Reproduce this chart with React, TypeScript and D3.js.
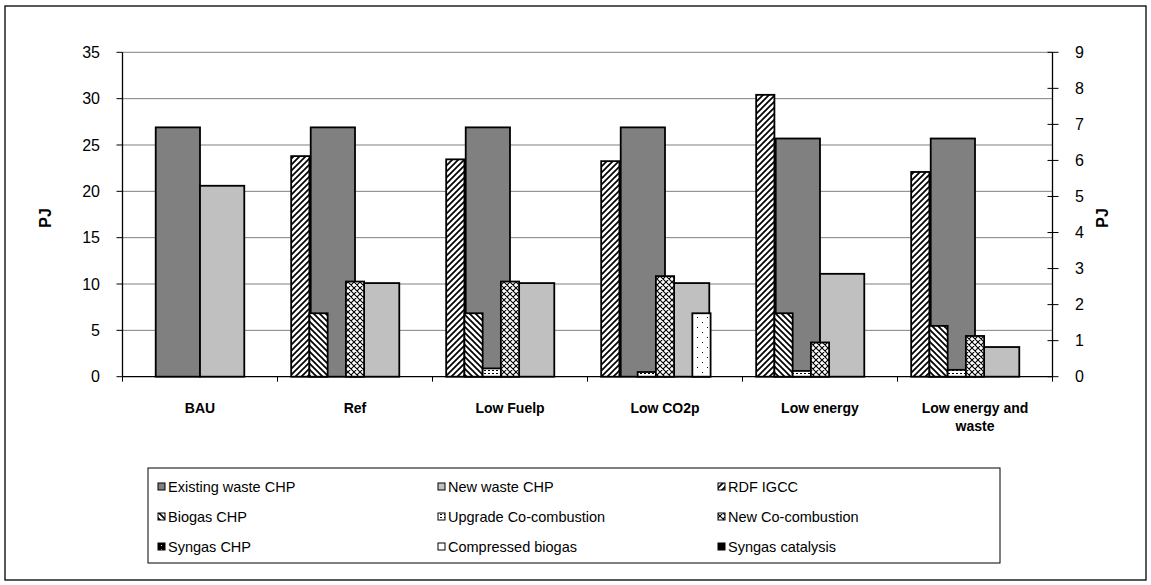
import React from 'react';
import * as d3 from 'd3';

// scenarios on the x axis
const categories = ['BAU', 'Ref', 'Low Fuelp', 'Low CO2p', 'Low energy', 'Low energy and waste'];

// primary axis (left, PJ)
const existingWasteChp = [26.9, 26.9, 26.9, 26.9, 25.7, 25.7];
const newWasteChp = [20.6, 10.1, 10.1, 10.1, 11.1, 3.2];

// secondary axis (right, PJ)
const rdfIgcc = [0, 6.12, 6.03, 5.98, 7.82, 5.68];
const biogasChp = [0, 1.76, 1.76, 0, 1.76, 1.41];
const upgradeCoComb = [0, 0, 0.23, 0.13, 0.16, 0.19];
const newCoComb = [0, 2.64, 2.64, 2.79, 0.95, 1.13];
const syngasChp = [0, 0, 0, 0, 0, 0];
const compressedBiogas = [0, 0, 0, 1.76, 0, 0];
const syngasCatalysis = [0, 0, 0, 0, 0, 0];

const leftTicks = [0, 5, 10, 15, 20, 25, 30, 35];
const rightTicks = [0, 1, 2, 3, 4, 5, 6, 7, 8, 9];

const primarySeries = [
  { name: 'Existing waste CHP', values: existingWasteChp, fill: '#808080' },
  { name: 'New waste CHP', values: newWasteChp, fill: '#c0c0c0' },
];

const secondarySeries = [
  { name: 'RDF IGCC', values: rdfIgcc, fill: 'url(#pUp)' },
  { name: 'Biogas CHP', values: biogasChp, fill: 'url(#pDown)' },
  { name: 'Upgrade Co-combustion', values: upgradeCoComb, fill: 'url(#pUpg)' },
  { name: 'New Co-combustion', values: newCoComb, fill: 'url(#pCross)' },
  { name: 'Syngas CHP', values: syngasChp, fill: 'url(#pSyn)' },
  { name: 'Compressed biogas', values: compressedBiogas, fill: 'url(#pDots)' },
  { name: 'Syngas catalysis', values: syngasCatalysis, fill: '#000' },
];

// legend order as in the reference (row by row)
const legendOrder = [
  primarySeries[0], primarySeries[1], secondarySeries[0],
  secondarySeries[1], secondarySeries[2], secondarySeries[3],
  secondarySeries[4], secondarySeries[5], secondarySeries[6],
];

const W = 1151;
const H = 585;
const left = 122.5;
const right = 1052.5;
const top = 52.3;
const bottom = 376.7;
const font = '"Liberation Sans", Arial, sans-serif';

export default function App() {
  const x0 = d3.scaleBand<string>().domain(categories).range([left, right]).padding(0);
  const xPrim = d3.scaleBand<number>().domain([0, 1]).range([0, x0.bandwidth()])
    .paddingInner(0).paddingOuter(0.75);
  const xSec = d3.scaleBand<number>().domain(d3.range(7)).range([0, x0.bandwidth()])
    .paddingInner(0).paddingOuter(0.75);
  const yL = d3.scaleLinear().domain([0, 35]).range([bottom, top]);
  const yR = d3.scaleLinear().domain([0, 9]).range([bottom, top]);

  const legX = [158, 438, 718];
  const legY = [487, 517, 547];

  return (
    <svg width={W} height={H} style={{ position: 'absolute', left: 0, top: 0, background: '#fff' }}
      fontFamily={font}>
      <defs>
        <pattern id="pUp" patternUnits="userSpaceOnUse" width="6" height="6">
          <rect width="6" height="6" fill="#fff" />
          <path d="M-1,1 l2,-2 M0,6 l6,-6 M5,7 l2,-2" stroke="#000" strokeWidth="1.7" />
        </pattern>
        <pattern id="pDown" patternUnits="userSpaceOnUse" width="6" height="6">
          <rect width="6" height="6" fill="#fff" />
          <path d="M-1,5 l2,2 M0,0 l6,6 M5,-1 l2,2" stroke="#000" strokeWidth="1.7" />
        </pattern>
        <pattern id="pCross" patternUnits="userSpaceOnUse" width="6" height="6">
          <rect width="6" height="6" fill="#fff" />
          <path d="M-1,1 l2,-2 M0,6 l6,-6 M5,7 l2,-2 M-1,5 l2,2 M0,0 l6,6 M5,-1 l2,2"
            stroke="#000" strokeWidth="1.1" />
        </pattern>
        <pattern id="pUpg" patternUnits="userSpaceOnUse" width="4" height="3">
          <rect width="4" height="3" fill="#fff" />
          <rect x="0" y="1" width="2" height="1" fill="#000" />
        </pattern>
        <pattern id="pSyn" patternUnits="userSpaceOnUse" width="4" height="4">
          <rect width="4" height="4" fill="#000" />
          <rect x="1" y="1" width="1" height="1" fill="#fff" />
        </pattern>
        <pattern id="pDots" patternUnits="userSpaceOnUse" width="10" height="10">
          <rect width="10" height="10" fill="#fff" />
          <rect x="2" y="2" width="1" height="1" fill="#000" />
          <rect x="7" y="7" width="1" height="1" fill="#000" />
        </pattern>
      </defs>

      {/* outer chart frame */}
      <rect x={5} y={6} width={1141} height={574} fill="#fff" stroke="#000" strokeWidth={1.3} />

      {/* gridlines */}
      {leftTicks.filter(t => t > 0).map(t => (
        <line key={'g' + t} x1={left} x2={right} y1={yL(t)} y2={yL(t)} stroke="#808080" strokeWidth={1} />
      ))}

      {/* primary bars */}
      {primarySeries.map((s, si) => categories.map((c, ci) => {
        const v = s.values[ci];
        if (!v) return null;
        const x = (x0(c) || 0) + (xPrim(si) || 0);
        return (
          <rect key={s.name + c} x={x} y={yL(v)} width={xPrim.bandwidth()} height={bottom - yL(v)}
            fill={s.fill} stroke="#000" strokeWidth={1.8} />
        );
      }))}

      {/* secondary bars drawn on top */}
      {secondarySeries.map((s, si) => categories.map((c, ci) => {
        const v = s.values[ci];
        if (!v) return null;
        const x = (x0(c) || 0) + (xSec(si) || 0);
        return (
          <rect key={s.name + c} x={x} y={yR(v)} width={xSec.bandwidth()} height={bottom - yR(v)}
            fill={s.fill} stroke="#000" strokeWidth={1.8} />
        );
      }))}

      {/* axes */}
      <line x1={left} x2={left} y1={top} y2={bottom} stroke="#000" strokeWidth={1.3} />
      <line x1={right} x2={right} y1={top} y2={bottom} stroke="#000" strokeWidth={1.3} />
      <line x1={left} x2={right} y1={bottom} y2={bottom} stroke="#000" strokeWidth={1.3} />

      {leftTicks.map(t => (
        <g key={'l' + t}>
          <line x1={left - 6} x2={left} y1={yL(t)} y2={yL(t)} stroke="#000" strokeWidth={1} />
          <text x={100} y={yL(t)} dy="0.36em" textAnchor="end" fontSize={16}>{t}</text>
        </g>
      ))}
      {rightTicks.map(t => (
        <g key={'r' + t}>
          <line x1={right - 5} x2={right + 6} y1={yR(t)} y2={yR(t)} stroke="#000" strokeWidth={1} />
          <text x={1075} y={yR(t)} dy="0.36em" textAnchor="start" fontSize={16}>{t}</text>
        </g>
      ))}

      {/* category ticks */}
      {categories.map(c => (
        <line key={'ct' + c} x1={x0(c) || 0} x2={x0(c) || 0} y1={bottom} y2={bottom + 5}
          stroke="#000" strokeWidth={1} />
      ))}
      <line x1={right} x2={right} y1={bottom} y2={bottom + 5} stroke="#000" strokeWidth={1} />

      {/* category labels */}
      {categories.map(c => {
        const cx = (x0(c) || 0) + x0.bandwidth() / 2;
        const lines = c === 'Low energy and waste' ? ['Low energy and', 'waste'] : [c];
        return (
          <text key={'cl' + c} x={cx} y={413} textAnchor="middle" fontSize={14} fontWeight="bold">
            {lines.map((ln, k) => (
              <tspan key={k} x={cx} dy={k === 0 ? 0 : 18}>{ln}</tspan>
            ))}
          </text>
        );
      })}

      {/* axis titles */}
      <text transform="translate(51,218) rotate(-90)" textAnchor="middle" fontSize={16} fontWeight="bold">PJ</text>
      <text transform="translate(1108,218) rotate(-90)" textAnchor="middle" fontSize={16} fontWeight="bold">PJ</text>

      {/* legend */}
      <rect x={148} y={468} width={852} height={95} fill="#fff" stroke="#000" strokeWidth={1} />
      {legendOrder.map((s, i) => {
        const lx = legX[i % 3];
        const ly = legY[Math.floor(i / 3)];
        return (
          <g key={'lg' + s.name}>
            <rect x={lx} y={ly - 4} width={7} height={7} fill={s.fill} stroke="#000" strokeWidth={1} />
            <text x={lx + 10} y={ly} dy="0.35em" fontSize={14.5}>{s.name}</text>
          </g>
        );
      })}
    </svg>
  );
}
